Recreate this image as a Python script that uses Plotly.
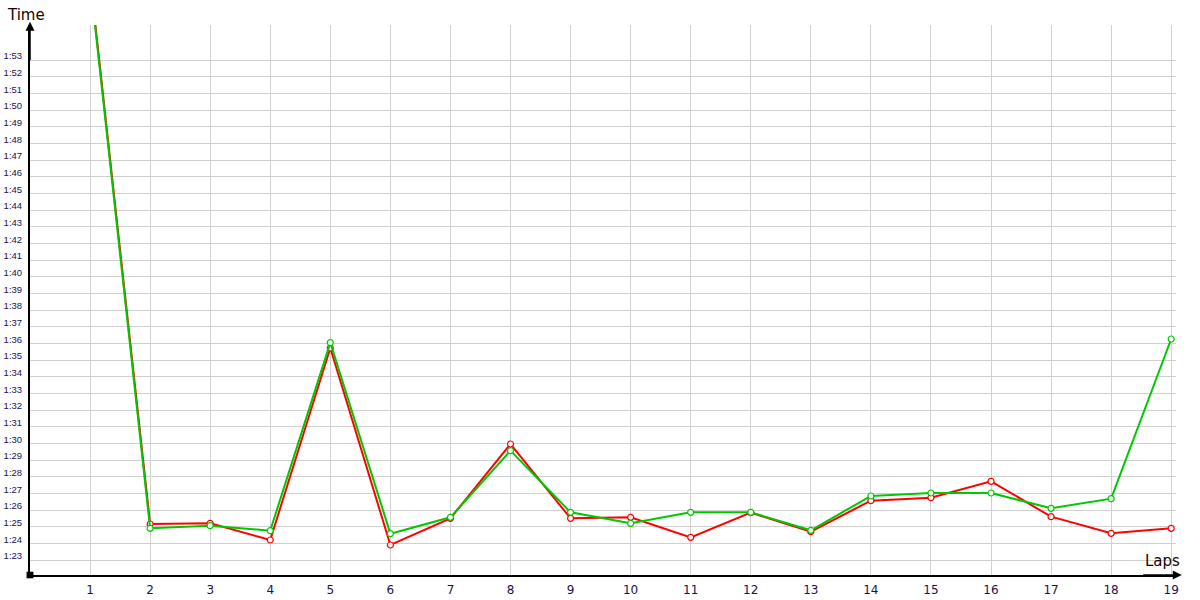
import plotly.graph_objects as go

laps = list(range(1, 20))
red_times = [118.0, 85.16, 85.2, 84.2, 95.72, 83.9, 85.5, 89.96, 85.5, 85.56,
             84.36, 85.84, 84.7, 86.56, 86.74, 87.72, 85.6, 84.6, 84.9]
green_times = [117.8, 84.9, 85.06, 84.76, 96.04, 84.58, 85.56, 89.56, 85.86, 85.2,
               85.86, 85.86, 84.78, 86.84, 87.02, 87.02, 86.1, 86.68, 96.26]
y_tick_vals = list(range(83, 114))
y_tick_text = [f"{v // 60}:{v % 60:02d}" for v in y_tick_vals]
x_tick_text = [str(v) for v in laps]

fig = go.Figure()
fig.add_trace(go.Scatter(
    x=laps, y=red_times, mode="lines+markers", name="red",
    line=dict(color="#ff0000", width=2),
    marker=dict(symbol="circle", size=6, color="white",
                line=dict(color="#ff0000", width=1.2)),
))
fig.add_trace(go.Scatter(
    x=laps, y=green_times, mode="lines+markers", name="green",
    line=dict(color="#00c800", width=2),
    marker=dict(symbol="circle", size=6, color="white",
                line=dict(color="#00c800", width=1.2)),
))

fig.update_layout(
    width=1200, height=600,
    margin=dict(l=30, r=24, t=25, b=25),
    plot_bgcolor="white", paper_bgcolor="white",
    showlegend=False,
    xaxis=dict(
        range=[0, 19.08], tickvals=laps, ticktext=x_tick_text,
        automargin=False,
        showgrid=True, gridcolor="#d0d0d0", gridwidth=1,
        showline=True, linecolor="black", linewidth=2,
        zeroline=False, ticks="", ticklabelstandoff=3,
        tickfont=dict(family="DejaVu Sans", size=12, color="#1a1050"),
    ),
    yaxis=dict(
        range=[82.1, 115.1], tickvals=y_tick_vals, ticktext=y_tick_text,
        automargin=False,
        showgrid=True, gridcolor="#d0d0d0", gridwidth=1,
        showline=True, linecolor="black", linewidth=2,
        zeroline=False, ticks="", ticklabelshift=-4, ticklabelstandoff=4,
        tickfont=dict(family="Liberation Sans", size=9.5, color="#1a1050"),
    ),
    shapes=[
        dict(type="rect", xref="paper", yref="paper", x0=-0.003, x1=0.003,
             y0=-0.006, y1=0.006, fillcolor="black", line=dict(width=0)),
    ],
    annotations=[
        dict(xref="paper", yref="paper", x=0, y=1.006, ax=0, ay=40,
             text="", showarrow=True, arrowhead=2, arrowsize=1.2,
             arrowwidth=1.5, arrowcolor="black"),
        dict(xref="paper", yref="paper", x=1.005, y=0, ax=-40, ay=0,
             text="", showarrow=True, arrowhead=2, arrowsize=1.2,
             arrowwidth=1.5, arrowcolor="black"),
        dict(xref="paper", yref="paper", x=-0.022, y=1.018, xanchor="left",
             yanchor="middle", text="Time", showarrow=False,
             font=dict(family="DejaVu Sans", size=15, color="#200000")),
        dict(xref="paper", yref="paper", x=0.971, y=0.005, xanchor="left",
             yanchor="bottom", text="Laps", showarrow=False,
             font=dict(family="DejaVu Sans", size=15, color="#200000")),
    ],
)

fig.write_html("out.html", config={"displayModeBar": False},
               post_script="document.body.style.margin='0';document.body.style.overflow='hidden';")
